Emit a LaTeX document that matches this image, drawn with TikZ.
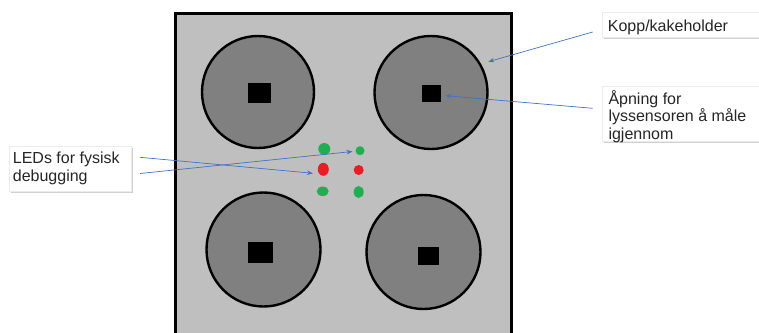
\documentclass[tikz,border=0pt]{standalone}
\usepackage{fontspec}
\setmainfont{Liberation Sans}
\usetikzlibrary{shadows,arrows.meta,calc,shapes.geometric}
\definecolor{boxgray}{RGB}{191,191,191}
\definecolor{cupgray}{RGB}{128,128,128}
\definecolor{ledgreen}{RGB}{30,176,80}
\definecolor{ledred}{RGB}{237,28,36}
\definecolor{callblue}{RGB}{68,114,196}
\definecolor{labeltext}{RGB}{38,38,38}
\tikzset{
  cup/.style={circle,draw=black,line width=2.4pt,fill=cupgray,inner sep=0pt},
  hole/.style={rectangle,fill=black,inner sep=0pt},
  led/.style={ellipse,inner sep=0pt},
  label box/.style={rectangle,fill=white,draw=black!8,line width=0.3pt,
     drop shadow={shadow xshift=1.5pt,shadow yshift=-2pt,fill=black!30,opacity=0.6},
     anchor=north west,inner sep=0pt},
  label line/.style={anchor=base west,inner sep=0pt,text=labeltext,font=\fontsize{16}{18}\selectfont},
  callout/.style={draw=callblue,line width=0.7pt,-{Stealth[length=6pt,width=4.5pt]}}
}
\begin{document}
\begin{tikzpicture}[x=1pt,y=-1pt]
\useasboundingbox (0,0) rectangle (759,332);
\clip (0,0) rectangle (759,332);
% base plate
\draw[line width=3pt,fill=boxgray] (175.5,13.5) rectangle (511.5,345);
% cups
\node[cup,minimum size=112pt] (c1) at (258,92) {};
\node[cup,minimum size=113pt] (c2) at (431,92.5) {};
\node[cup,minimum size=114pt] (c3) at (263.5,249.5) {};
\node[cup,minimum size=114pt] (c4) at (423.5,252) {};
% holes
\node[hole,minimum width=23pt,minimum height=20pt] (h1) at (259,92.5) {};
\node[hole,minimum width=19pt,minimum height=17pt] (h2) at (431,93) {};
\node[hole,minimum width=25pt,minimum height=21pt] (h3) at (260,252) {};
\node[hole,minimum width=21pt,minimum height=18pt] (h4) at (428.7,256) {};
% LEDs
\node[led,fill=ledgreen,minimum width=12pt,minimum height=12pt] (g1) at (324.3,149) {};
\node[led,fill=ledgreen,minimum width=9pt,minimum height=9pt] (g2) at (360,150.7) {};
\node[led,fill=ledred,minimum width=11pt,minimum height=13pt] (r1) at (323.3,169.3) {};
\node[led,fill=ledred,minimum width=10pt,minimum height=10pt] (r2) at (358.7,170) {};
\node[led,fill=ledgreen,minimum width=12pt,minimum height=9.5pt] (g3) at (322.7,191.3) {};
\node[led,fill=ledgreen,minimum width=10pt,minimum height=12pt] (g4) at (358.7,192) {};
% label boxes
\node[label box,minimum width=122pt,minimum height=45pt] (lled) at (9,146) {};
\node[label box,minimum width=160pt,minimum height=25pt] (lkopp) at (602,12) {};
\node[label box,minimum width=160pt,minimum height=55pt] (lhole) at (602,86) {};
% label texts
\node[label line] (tled1) at (12.7,163) {LEDs for fysisk};
\node[label line] (tled2) at (12.7,181.3) {debugging};
\node[label line] (tkopp) at (607.7,31.5) {Kopp/kakeholder};
\node[label line] (thole1) at (608.3,104) {Åpning for};
\node[label line] (thole2) at (608.3,121.5) {lyssensoren å måle};
\node[label line] (thole3) at (608.3,139) {igjennom};
% callout endpoints
\coordinate (s1) at (140,157.3);
\coordinate (s2) at (140,173.5);
\coordinate (s3) at (592.7,32);
\coordinate (s4) at (592.7,108.3);
\coordinate (t1) at (313,173.3);
\coordinate (t2) at (352.5,151.5);
\coordinate (t3) at (488.3,61.7);
\coordinate (t4) at (445.5,95.7);
\draw[callout] (s1) -- (t1);
\draw[callout] (s2) -- (t2);
\draw[callout] (s3) -- (t3);
\draw[callout] (s4) -- (t4);
\end{tikzpicture}
\end{document}
